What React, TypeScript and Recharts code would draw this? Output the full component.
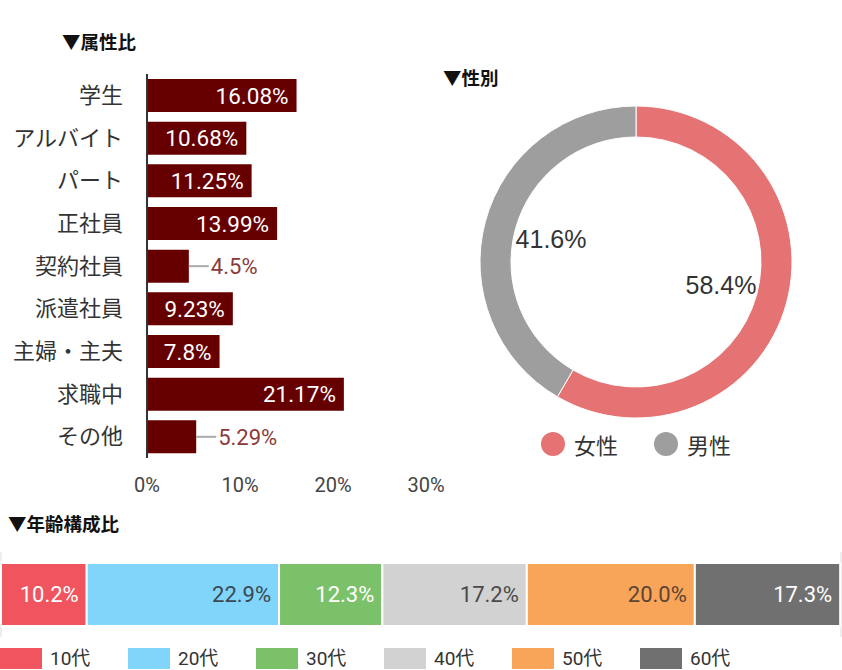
import React from 'react';
import {
  BarChart, Bar, XAxis, YAxis, CartesianGrid, LabelList, PieChart, Pie, Cell, Legend,
} from 'recharts';

const attrCategories = ['学生', 'アルバイト', 'パート', '正社員', '契約社員', '派遣社員', '主婦・主夫', '求職中', 'その他'];
const attrValues = [16.08, 10.68, 11.25, 13.99, 4.5, 9.23, 7.8, 21.17, 5.29];
const attrTicks = [0, 10, 20, 30];

const genderNames = ['女性', '男性'];
const genderValues = [58.4, 41.6];
const genderColors = ['#E57373', '#9E9E9E'];

const ageNames = ['10代', '20代', '30代', '40代', '50代', '60代'];
const ageValues = [10.2, 22.9, 12.3, 17.2, 20.0, 17.3];
const ageColors = ['#F0545F', '#81D4FA', '#7BC16A', '#D2D2D2', '#F8A55A', '#707070'];
const ageLabelColors = ['#ffffff', '#3A4852', '#ffffff', '#4A4A4A', '#5A4535', '#ffffff'];
const ageTicks = [0, 10, 20, 30, 40, 50, 60, 70, 80, 90, 100];

const FONT = "Roboto, 'Noto Sans CJK JP', sans-serif";
const CJK = "'Noto Sans CJK JP', Roboto, sans-serif";

const attrData = attrCategories.map((name, i) => ({ name, value: attrValues[i] }));
const genderData = genderNames.map((name, i) => ({ name, value: genderValues[i] }));
const ageRow: Record<string, any> = { name: '年齢' };
ageNames.forEach((n, i) => { ageRow[n] = ageValues[i]; });
const ageData = [ageRow];

const AttrLabel = (props: any) => {
  const { x, y, width, height, value } = props;
  const cy = y + height / 2;
  const end = x + width;
  if (value >= 7) {
    return (
      <text x={end - 8} y={cy} dy="0.36em" textAnchor="end" fill="#ffffff" fontSize={22.5} fontFamily={FONT}>
        {value}%
      </text>
    );
  }
  return (
    <g>
      <line x1={end} x2={end + 20} y1={cy} y2={cy} stroke="#aaaaaa" strokeWidth={2} />
      <text x={end + 22} y={cy} dy="0.36em" textAnchor="start" fill="#8B3A3A" fontSize={22} fontFamily={FONT}>
        {value}%
      </text>
    </g>
  );
};

const RAD = Math.PI / 180;
const PieLabel = (props: any) => {
  const { cx, cy, midAngle, value } = props;
  const r = 88;
  const x = cx + r * Math.cos(-midAngle * RAD);
  const y = cy + r * Math.sin(-midAngle * RAD);
  return (
    <text x={x} y={y} textAnchor="middle" dominantBaseline="central" fill="#333333" fontSize={25}
      fontFamily="'Liberation Sans', Arial, sans-serif">
      {value.toFixed(1)}%
    </text>
  );
};

const GenderLegend = () => (
  <div style={{ display: 'flex', justifyContent: 'center', alignItems: 'center', height: 28, fontFamily: CJK }}>
    {genderNames.map((n, i) => (
      <div key={n} style={{ display: 'flex', alignItems: 'center', marginLeft: i === 0 ? 0 : 36 }}>
        <span style={{ width: 24, height: 24, borderRadius: 12, background: genderColors[i], display: 'inline-block', marginRight: 9 }} />
        <span style={{ fontSize: 22, color: '#333', lineHeight: '28px' }}>{n}</span>
      </div>
    ))}
  </div>
);

const AgeLegend = () => (
  <div style={{ display: 'flex', alignItems: 'center', height: 33, paddingTop: 0, fontFamily: FONT }}>
    {ageNames.map((n, i) => (
      <div key={n} style={{ display: 'flex', alignItems: 'center', width: 128, marginTop: 10 }}>
        <span style={{ width: 42, height: 21, background: ageColors[i], display: 'inline-block', marginRight: 8 }} />
        <span style={{ fontSize: 19, color: '#333', lineHeight: '21px' }}>{n}</span>
      </div>
    ))}
  </div>
);

const titleStyle: React.CSSProperties = {
  position: 'absolute', fontFamily: CJK, fontWeight: 700, fontSize: 18.5, lineHeight: '20px', color: '#111', whiteSpace: 'nowrap',
};

export default function App() {
  return (
    <div style={{ position: 'absolute', left: 0, top: 0, width: 842, height: 670, background: '#fff', overflow: 'hidden', fontFamily: FONT }}>
      <div style={{ ...titleStyle, left: 62, top: 31 }}>▼属性比</div>
      <div style={{ ...titleStyle, left: 443, top: 67 }}>▼性別</div>
      <div style={{ ...titleStyle, left: 8, top: 513 }}>▼年齢構成比</div>

      <div style={{ position: 'absolute', left: 0, top: 0 }}>
        <BarChart width={460} height={500} data={attrData} layout="vertical"
          margin={{ top: 74, right: 34, bottom: 0, left: 0 }}>
          <XAxis type="number" domain={[0, 30]} ticks={attrTicks} tickFormatter={(v: number) => `${v}%`}
            axisLine={false} tickLine={false} tickSize={0} tickMargin={20} height={42}
            tick={{ fill: '#444', fontSize: 20, fontFamily: FONT }} interval={0} />
          <YAxis type="category" dataKey="name" width={147} axisLine={{ stroke: '#333', strokeWidth: 2 }}
            tickLine={false} tickSize={0} tickMargin={24}
            tick={{ fill: '#333', fontSize: 22, fontFamily: CJK }} interval={0} />
          <Bar dataKey="value" fill="#660000" barSize={33} isAnimationActive={false}>
            <LabelList dataKey="value" content={AttrLabel} />
          </Bar>
        </BarChart>
      </div>

      <div style={{ position: 'absolute', left: 436, top: 60 }}>
        <PieChart width={400} height={420}>
          <Pie data={genderData} dataKey="value" nameKey="name" cx={195} cy={197}
            innerRadius={125} outerRadius={156} startAngle={90} endAngle={-270}
            label={PieLabel} labelLine={false} isAnimationActive={false} stroke="#fff" strokeWidth={1}>
            {genderData.map((d, i) => <Cell key={d.name} fill={genderColors[i]} />)}
          </Pie>
          <Legend content={GenderLegend} wrapperStyle={{ position: 'absolute', left: 0, top: 370, width: 400, height: 28 }} />
        </PieChart>
      </div>

      <div style={{ position: 'absolute', left: 0, top: 540 }}>
        <BarChart width={842} height={130} data={ageData} layout="vertical"
          margin={{ top: 12, right: 1, bottom: 0, left: 1 }}>
          <CartesianGrid horizontal={false} vertical={true} stroke="#dddddd" />
          <XAxis type="number" domain={[0, 100]} ticks={ageTicks} tick={false} axisLine={false} tickLine={false} height={0} />
          <YAxis type="category" dataKey="name" hide />
          {ageNames.map((n, i) => (
            <Bar key={n} dataKey={n} stackId="a" fill={ageColors[i]} stroke="#ffffff" strokeWidth={2}
              barSize={63} isAnimationActive={false}>
              <LabelList dataKey={n} position="insideRight" offset={8} fill={ageLabelColors[i]}
                fontSize={22} fontFamily={FONT} formatter={(v: any) => `${Number(v).toFixed(1)}%`} />
            </Bar>
          ))}
          <Legend content={AgeLegend} verticalAlign="bottom" height={33} wrapperStyle={{ left: 0, width: 842 }} />
        </BarChart>
      </div>
    </div>
  );
}
